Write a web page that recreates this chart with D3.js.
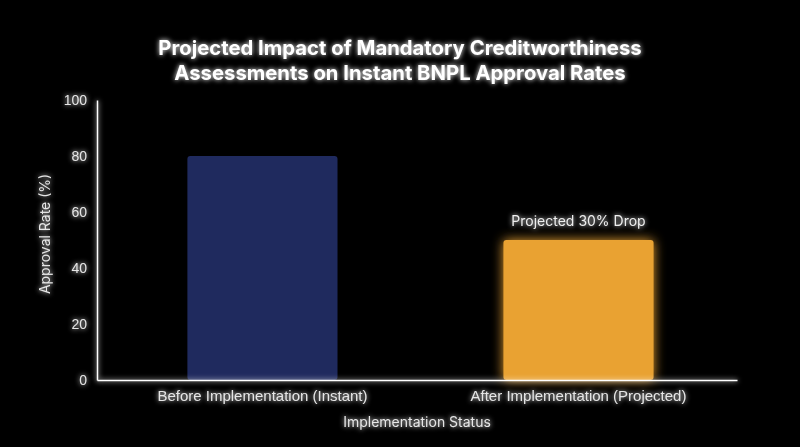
<!DOCTYPE html>
<html>
<head>
<meta charset="utf-8">
<script src="https://cdn.jsdelivr.net/npm/d3@7"></script>
<style>
  body { margin: 0; background: #000; }
  svg { display: block; font-family: Inter, "Noto Sans", sans-serif; }
</style>
</head>
<body>
<script>
// data
var categories = ["Before Implementation (Instant)", "After Implementation (Projected)"];
var approvalRates = [80, 50];
var barColors = ["#1f2a5e", "#e9a231"];
var yTicks = [0, 20, 40, 60, 80, 100];
var annotation = "Projected 30% Drop";

var width = 800, height = 447;
var margin = {top: 100, right: 63, bottom: 67, left: 97};
var plotW = width - margin.left - margin.right,
    plotH = height - margin.top - margin.bottom;

var svg = d3.select("body").append("svg")
    .attr("width", width)
    .attr("height", height);

svg.append("rect").attr("width", width).attr("height", height).attr("fill", "#000");

// glow filters (user space so thin lines keep their glow; big region since
// it is measured in each element's local coordinates)
var defs = svg.append("defs");
function glow(id, dev) {
  var f = defs.append("filter").attr("id", id)
      .attr("filterUnits", "userSpaceOnUse")
      .attr("x", -2000).attr("y", -2000).attr("width", 4000).attr("height", 4000);
  f.append("feGaussianBlur").attr("in", "SourceGraphic").attr("stdDeviation", dev).attr("result", "blur");
  var m = f.append("feMerge");
  m.append("feMergeNode").attr("in", "blur");
  m.append("feMergeNode").attr("in", "SourceGraphic");
}
glow("glowText", 2.5);
glow("glowBar", 6);

var g = svg.append("g")
    .attr("transform", "translate(" + margin.left + "," + margin.top + ")");

// scales
var x = d3.scaleBand().domain(categories).range([0, plotW])
    .paddingInner(0.525).paddingOuter(0.275).align(0.52);
var y = d3.scaleLinear().domain([0, 100]).range([plotH, 0]);

// bars
g.selectAll(".bar")
  .data(approvalRates)
  .enter().append("rect")
    .attr("class", "bar")
    .attr("x", (d, i) => x(categories[i]))
    .attr("y", d => y(d))
    .attr("width", x.bandwidth())
    .attr("height", d => plotH - y(d))
    .attr("rx", 3)
    .attr("fill", (d, i) => barColors[i])
    .attr("filter", (d, i) => i === 1 ? "url(#glowBar)" : null);

// y axis
var yAxis = g.append("g")
    .call(d3.axisLeft(y).tickValues(yTicks).tickSize(0).tickPadding(10));
yAxis.select(".domain").attr("stroke", "#fff").attr("stroke-width", 1.5).attr("filter", "url(#glowText)");
yAxis.selectAll("text").attr("fill", "#e6e6e6").style("font-size", "14px").attr("filter", "url(#glowText)");

// x axis
var xAxis = g.append("g")
    .attr("transform", "translate(0," + plotH + ")")
    .call(d3.axisBottom(x).tickSize(0).tickPadding(10));
xAxis.select(".domain").attr("stroke", "#fff").attr("stroke-width", 1.5).attr("filter", "url(#glowText)");
xAxis.selectAll("text").attr("fill", "#e6e6e6").style("font-size", "15px").attr("filter", "url(#glowText)");

// annotation
g.append("text")
    .attr("x", x(categories[1]) + x.bandwidth() / 2)
    .attr("y", y(approvalRates[1]) - 14)
    .attr("text-anchor", "middle")
    .attr("fill", "#eee")
    .style("font-size", "14px")
    .attr("filter", "url(#glowText)")
    .text(annotation);

// axis titles
svg.append("text")
    .attr("transform", "translate(50,234) rotate(-90)")
    .attr("text-anchor", "middle")
    .attr("fill", "#e6e6e6")
    .style("font-size", "14px")
    .attr("filter", "url(#glowText)")
    .text("Approval Rate (%)");

svg.append("text")
    .attr("x", margin.left + plotW / 2)
    .attr("y", 427)
    .attr("text-anchor", "middle")
    .attr("fill", "#e6e6e6")
    .style("font-size", "14px")
    .attr("filter", "url(#glowText)")
    .text("Implementation Status");

// title
var title = svg.append("text")
    .attr("x", 400)
    .attr("text-anchor", "middle")
    .attr("fill", "#fff")
    .style("font-size", "20.3px")
    .style("font-weight", "700")
    .attr("filter", "url(#glowText)");
title.append("tspan").attr("x", 400).attr("y", 55).text("Projected Impact of Mandatory Creditworthiness");
title.append("tspan").attr("x", 400).attr("y", 80).text("Assessments on Instant BNPL Approval Rates");
</script>
</body>
</html>
